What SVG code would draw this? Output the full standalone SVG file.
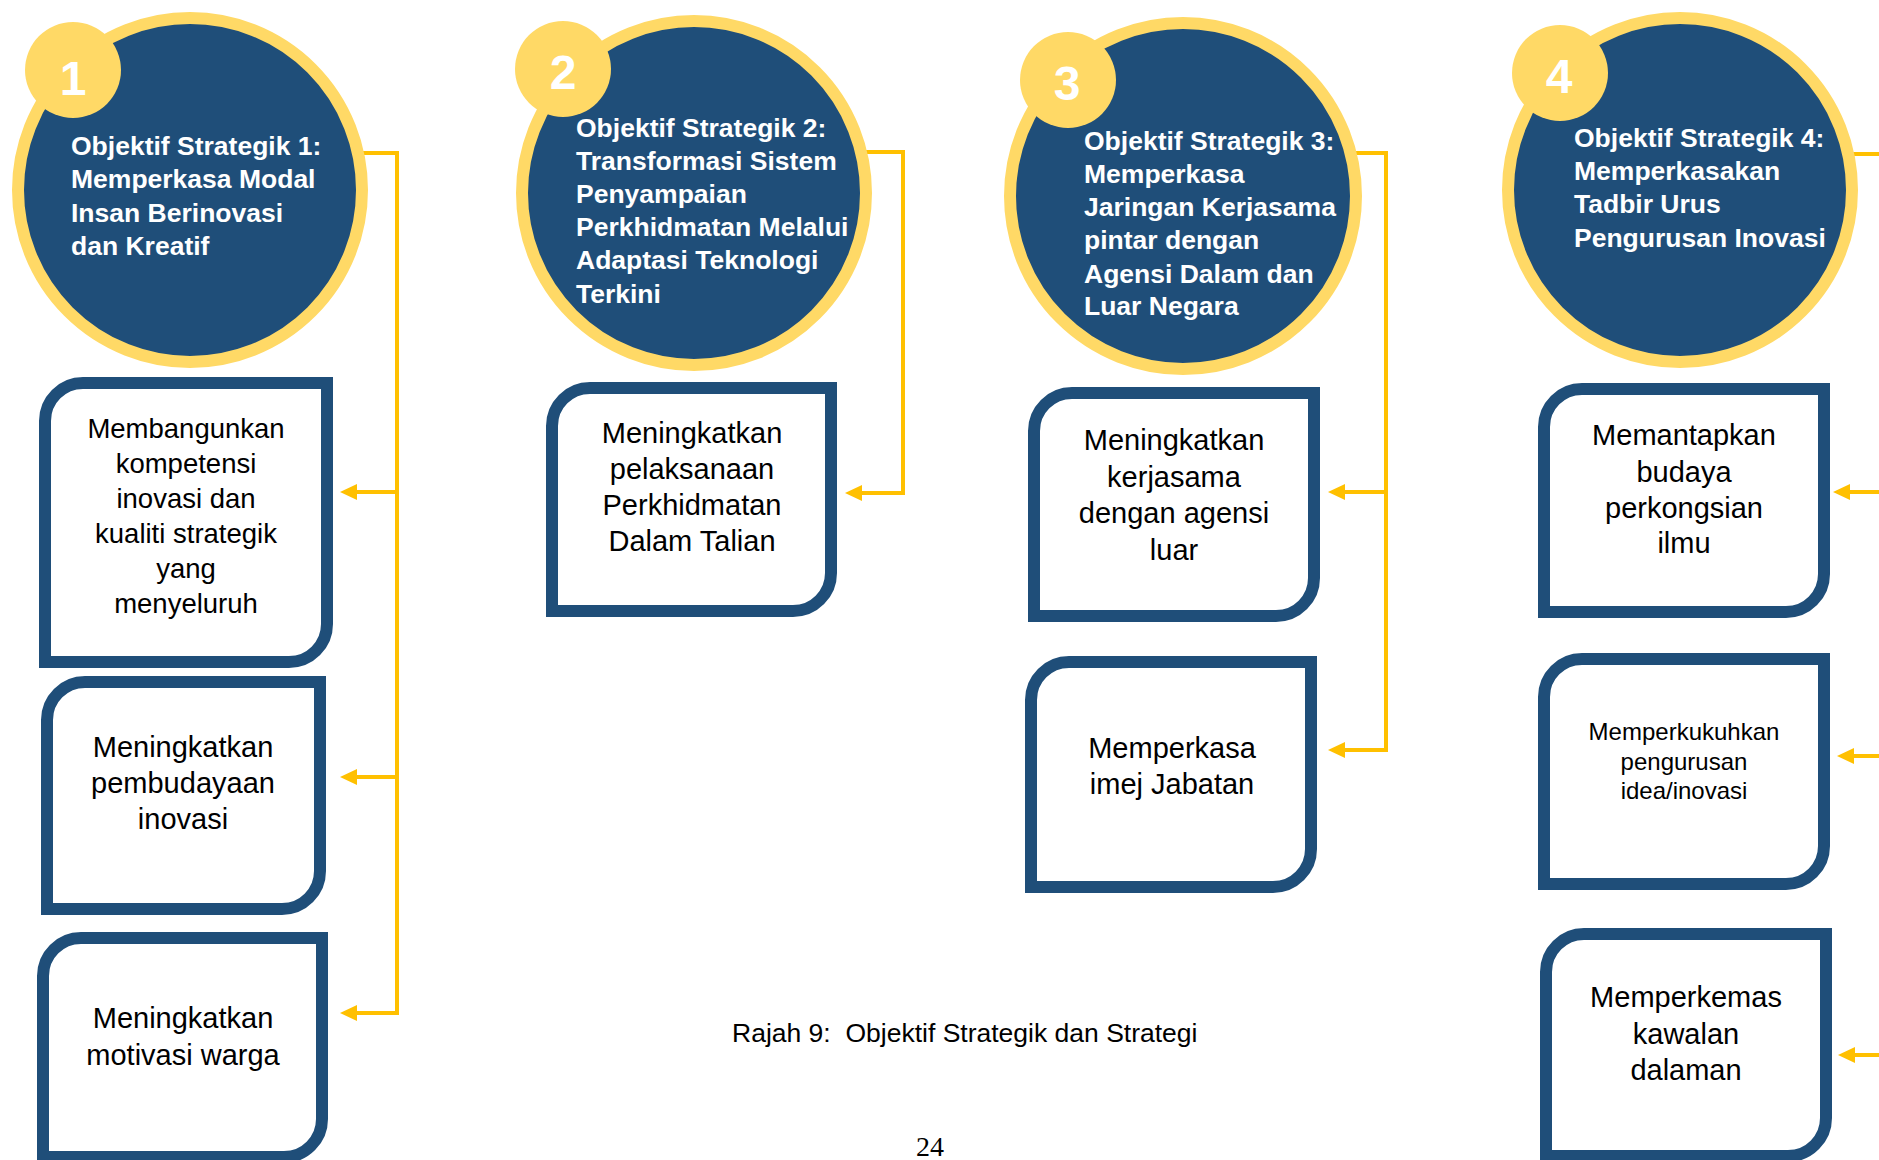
<svg xmlns="http://www.w3.org/2000/svg" width="1879" height="1160" viewBox="0 0 1879 1160">
<style>
.obj circle.main{fill:#1F4E79;stroke:#FFD966;stroke-width:12}
.badge{fill:#FFD966}
.num{font-family:"Liberation Sans",Arial,sans-serif;font-weight:bold;font-size:48px;fill:#fff;text-anchor:middle}
.otxt{font-family:"Liberation Sans",Arial,sans-serif;font-weight:bold;font-size:26.5px;fill:#fff}
.box path{fill:#fff;stroke:#1F4E79;stroke-width:12;stroke-linejoin:miter}
.btxt{font-family:"Liberation Sans",Arial,sans-serif;font-size:29px;fill:#000;text-anchor:middle}
.conn{fill:none;stroke:#FFC000;stroke-width:4}
.cap{font-family:"Liberation Sans",Arial,sans-serif;font-size:26.5px;fill:#000;white-space:pre}
.pg{font-family:"Liberation Serif","Times New Roman",serif;font-size:28px;fill:#000;text-anchor:middle}
</style>
<defs>
<marker id="ah" markerUnits="userSpaceOnUse" markerWidth="18" markerHeight="18" refX="4" refY="8" orient="auto">
<path d="M0,0 L17,8 L0,16 z" fill="#FFC000"/>
</marker>
</defs>
<rect width="1879" height="1160" fill="#fff"/>
<g id="connectors" class="conn">
<path d="M350,153 H397 V1013 H353" marker-end="url(#ah)"/>
<path d="M397,492 H353" marker-end="url(#ah)"/>
<path d="M397,777 H353" marker-end="url(#ah)"/>
<path d="M850,152 H903 V493 H858" marker-end="url(#ah)"/>
<path d="M1340,153 H1386 V750 H1341" marker-end="url(#ah)"/>
<path d="M1386,492 H1341" marker-end="url(#ah)"/>
<path d="M1840,154 H1890"/>
<path d="M1890,492 H1846" marker-end="url(#ah)"/>
<path d="M1890,756 H1850" marker-end="url(#ah)"/>
<path d="M1890,1055 H1851" marker-end="url(#ah)"/>
</g>
<g id="obj1" class="obj">
<circle class="main" cx="190" cy="190" r="172"/>
<circle class="badge" cx="73" cy="70" r="48"/>
<text class="num" x="73" y="95">1</text>
<text class="otxt" x="71" y="155">Objektif Strategik 1:</text>
<text class="otxt" x="71" y="188">Memperkasa Modal</text>
<text class="otxt" x="71" y="222">Insan Berinovasi</text>
<text class="otxt" x="71" y="255">dan Kreatif</text>
</g>
<g id="obj2" class="obj">
<circle class="main" cx="694" cy="193" r="172"/>
<circle class="badge" cx="563" cy="69" r="48"/>
<text class="num" x="563" y="89">2</text>
<text class="otxt" x="576" y="137">Objektif Strategik 2:</text>
<text class="otxt" x="576" y="170">Transformasi Sistem</text>
<text class="otxt" x="576" y="203">Penyampaian</text>
<text class="otxt" x="576" y="236">Perkhidmatan Melalui</text>
<text class="otxt" x="576" y="269">Adaptasi Teknologi</text>
<text class="otxt" x="576" y="303">Terkini</text>
</g>
<g id="obj3" class="obj">
<circle class="main" cx="1183" cy="196" r="173"/>
<circle class="badge" cx="1068" cy="80" r="48"/>
<text class="num" x="1067" y="100">3</text>
<text class="otxt" x="1084" y="150">Objektif Strategik 3:</text>
<text class="otxt" x="1084" y="183">Memperkasa</text>
<text class="otxt" x="1084" y="216">Jaringan Kerjasama</text>
<text class="otxt" x="1084" y="249">pintar dengan</text>
<text class="otxt" x="1084" y="283">Agensi Dalam dan</text>
<text class="otxt" x="1084" y="315">Luar Negara</text>
</g>
<g id="obj4" class="obj">
<circle class="main" cx="1680" cy="190" r="172"/>
<circle class="badge" cx="1560" cy="73" r="48"/>
<text class="num" x="1559" y="93">4</text>
<text class="otxt" x="1574" y="147">Objektif Strategik 4:</text>
<text class="otxt" x="1574" y="180">Memperkasakan</text>
<text class="otxt" x="1574" y="213">Tadbir Urus</text>
<text class="otxt" x="1574" y="247">Pengurusan Inovasi</text>
</g>
<g id="s1a" class="box">
<path d="M45,662 V421 A38,38 0 0 1 83,383 H327 V624 A38,38 0 0 1 289,662 Z"/>
<text class="btxt" style="font-size:27.5px" x="186" y="438">Membangunkan</text>
<text class="btxt" style="font-size:27.5px" x="186" y="473">kompetensi</text>
<text class="btxt" style="font-size:27.5px" x="186" y="508">inovasi dan</text>
<text class="btxt" style="font-size:27.5px" x="186" y="543">kualiti strategik</text>
<text class="btxt" style="font-size:27.5px" x="186" y="578">yang</text>
<text class="btxt" style="font-size:27.5px" x="186" y="613">menyeluruh</text>
</g>
<g id="s1b" class="box">
<path d="M47,909 V720 A38,38 0 0 1 85,682 H320 V871 A38,38 0 0 1 282,909 Z"/>
<text class="btxt" x="183" y="757">Meningkatkan</text>
<text class="btxt" x="183" y="793">pembudayaan</text>
<text class="btxt" x="183" y="829">inovasi</text>
</g>
<g id="s1c" class="box">
<path d="M43,1157 V976 A38,38 0 0 1 81,938 H322 V1119 A38,38 0 0 1 284,1157 Z"/>
<text class="btxt" x="183" y="1028">Meningkatkan</text>
<text class="btxt" x="183" y="1065">motivasi warga</text>
</g>
<g id="s2a" class="box">
<path d="M552,611 V426 A38,38 0 0 1 590,388 H831 V573 A38,38 0 0 1 793,611 Z"/>
<text class="btxt" x="692" y="443">Meningkatkan</text>
<text class="btxt" x="692" y="479">pelaksanaan</text>
<text class="btxt" x="692" y="515">Perkhidmatan</text>
<text class="btxt" x="692" y="551">Dalam Talian</text>
</g>
<g id="s3a" class="box">
<path d="M1034,616 V431 A38,38 0 0 1 1072,393 H1314 V578 A38,38 0 0 1 1276,616 Z"/>
<text class="btxt" x="1174" y="450">Meningkatkan</text>
<text class="btxt" x="1174" y="486.5">kerjasama</text>
<text class="btxt" x="1174" y="523">dengan agensi</text>
<text class="btxt" x="1174" y="559.5">luar</text>
</g>
<g id="s3b" class="box">
<path d="M1031,887 V700 A38,38 0 0 1 1069,662 H1311 V849 A38,38 0 0 1 1273,887 Z"/>
<text class="btxt" x="1172" y="758">Memperkasa</text>
<text class="btxt" x="1172" y="794">imej Jabatan</text>
</g>
<g id="s4a" class="box">
<path d="M1544,612 V427 A38,38 0 0 1 1582,389 H1824 V574 A38,38 0 0 1 1786,612 Z"/>
<text class="btxt" x="1684" y="445">Memantapkan</text>
<text class="btxt" x="1684" y="481.5">budaya</text>
<text class="btxt" x="1684" y="518">perkongsian</text>
<text class="btxt" x="1684" y="553">ilmu</text>
</g>
<g id="s4b" class="box">
<path d="M1544,884 V697 A38,38 0 0 1 1582,659 H1824 V846 A38,38 0 0 1 1786,884 Z"/>
<text class="btxt" style="font-size:24px" x="1684" y="740">Memperkukuhkan</text>
<text class="btxt" style="font-size:24px" x="1684" y="769.5">pengurusan</text>
<text class="btxt" style="font-size:24px" x="1684" y="799">idea/inovasi</text>
</g>
<g id="s4c" class="box">
<path d="M1546,1156 V972 A38,38 0 0 1 1584,934 H1826 V1118 A38,38 0 0 1 1788,1156 Z"/>
<text class="btxt" x="1686" y="1007">Memperkemas</text>
<text class="btxt" x="1686" y="1044">kawalan</text>
<text class="btxt" x="1686" y="1080">dalaman</text>
</g>
<text class="cap" x="732" y="1042" xml:space="preserve">Rajah 9:  Objektif Strategik dan Strategi</text>
<text class="pg" x="930" y="1156">24</text>
</svg>
